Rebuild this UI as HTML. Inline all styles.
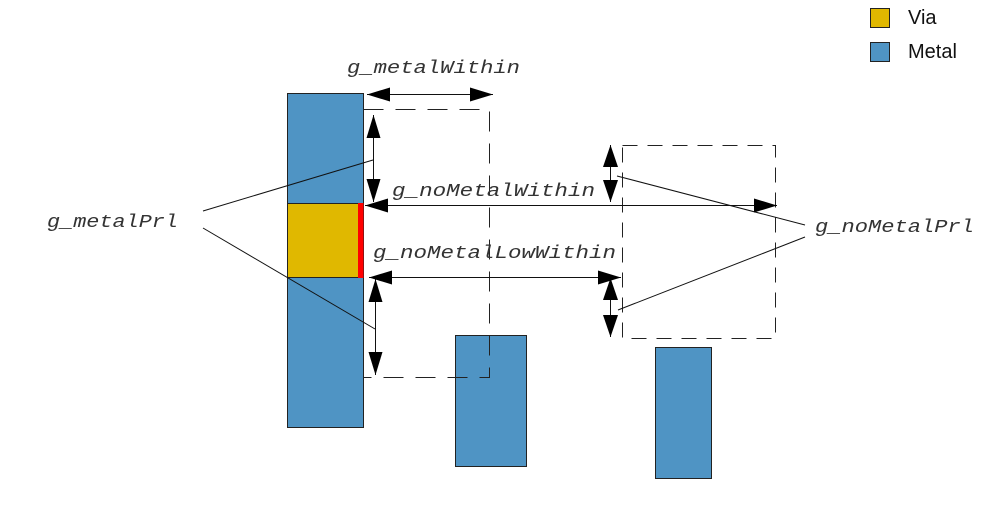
<!DOCTYPE html>
<html><head><meta charset="utf-8"><style>
html,body{margin:0;padding:0;background:#fff;}
svg{display:block;}
.t{font-family:"Liberation Mono",monospace;font-style:italic;font-size:18px;fill:#333;}
.l{font-family:"Liberation Sans",sans-serif;font-size:20px;fill:#111;}
</style></head><body>
<svg width="1005" height="511" viewBox="0 0 1005 511" xmlns="http://www.w3.org/2000/svg">
<rect x="0" y="0" width="1005" height="511" fill="#fff"/>
<!-- legend -->
<rect x="870.5" y="8.5" width="19" height="19" fill="#e0b800" stroke="#222" stroke-width="1"/>
<text class="l" x="908" y="24">Via</text>
<rect x="870.5" y="42.5" width="19" height="19" fill="#4f94c4" stroke="#222" stroke-width="1"/>
<text class="l" x="908" y="58">Metal</text>

<!-- metals -->
<rect x="287.5" y="93.5" width="76" height="334" fill="#4f94c4" stroke="#222" stroke-width="1"/>
<rect x="287.5" y="203.5" width="71" height="74" fill="#e0b800" stroke="#222" stroke-width="1"/>
<rect x="358" y="203" width="5.5" height="75" fill="#ff0000"/>
<rect x="455.5" y="335.5" width="71" height="131" fill="#4f94c4" stroke="#222" stroke-width="1"/>
<rect x="655.5" y="347.5" width="56" height="131" fill="#4f94c4" stroke="#222" stroke-width="1"/>

<!-- dashed regions -->
<g fill="none" stroke="#222" stroke-width="1">
<path d="M363.5 109.5 H489.5 V377.5 H363.5" stroke-dasharray="20 12"/>
<rect x="622.5" y="145.5" width="153" height="193" stroke-dasharray="15 10"/>
</g>

<!-- lines -->
<g stroke="#111" stroke-width="1" fill="none">
<line x1="367" y1="94.5" x2="493" y2="94.5"/>
<line x1="365" y1="205.5" x2="777" y2="205.5"/>
<line x1="369" y1="277.5" x2="621" y2="277.5"/>
<line x1="373.5" y1="115" x2="373.5" y2="202"/>
<line x1="375.5" y1="279" x2="375.5" y2="375"/>
<line x1="610.5" y1="145" x2="610.5" y2="202"/>
<line x1="610.5" y1="278" x2="610.5" y2="337"/>
<line x1="203" y1="211" x2="373" y2="160"/>
<line x1="203" y1="228" x2="375" y2="329"/>
<line x1="617" y1="176" x2="805" y2="225"/>
<line x1="618" y1="310" x2="805" y2="237"/>
</g>

<!-- arrowheads -->
<g fill="#000">
<polygon points="367,94.5 390,87.5 390,101.5"/>
<polygon points="493,94.5 470,87.5 470,101.5"/>
<polygon points="365,205.5 388,198.5 388,212.5"/>
<polygon points="777,205.5 754,198.5 754,212.5"/>
<polygon points="369,277.5 392,270.5 392,284.5"/>
<polygon points="621,277.5 598,270.5 598,284.5"/>
<polygon points="373.5,115 366.5,138 380.5,138"/>
<polygon points="373.5,202 366.5,179 380.5,179"/>
<polygon points="375.5,279 368.5,302 382.5,302"/>
<polygon points="375.5,375 368.5,352 382.5,352"/>
<polygon points="610.5,145 603,167 618,167"/>
<polygon points="610.5,202 603,180 618,180"/>
<polygon points="610.5,278 603,300 618,300"/>
<polygon points="610.5,337 603,315 618,315"/>
</g>

<!-- labels -->
<text class="t" x="347" y="73" textLength="173" lengthAdjust="spacingAndGlyphs">g_metalWithin</text>
<text class="t" x="392" y="196" textLength="203" lengthAdjust="spacingAndGlyphs">g_noMetalWithin</text>
<text class="t" x="373" y="258" textLength="243" lengthAdjust="spacingAndGlyphs">g_noMetalLowWithin</text>
<text class="t" x="47" y="227" textLength="131" lengthAdjust="spacingAndGlyphs">g_metalPrl</text>
<text class="t" x="815" y="232" textLength="159" lengthAdjust="spacingAndGlyphs">g_noMetalPrl</text>
</svg>
</body></html>
